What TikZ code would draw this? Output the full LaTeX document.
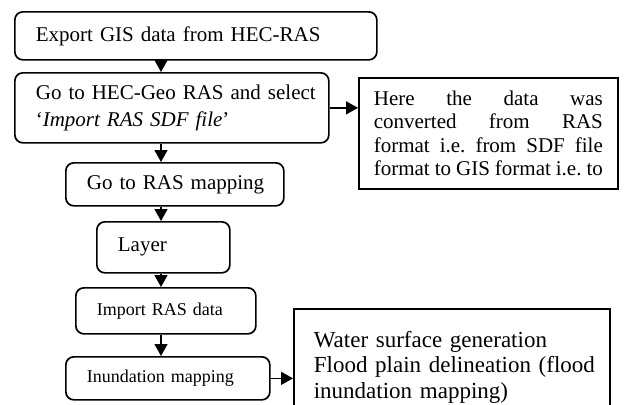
\documentclass[tikz,border=0pt]{standalone}
\usepackage{fontspec}
\setmainfont{Liberation Serif}
\usetikzlibrary{arrows.meta}
\begin{document}
\frenchspacing
\begin{tikzpicture}[x=1pt,y=-1pt,
  rbox/.style={draw, line width=1.7pt, rounded corners=8pt, anchor=north west,
    inner ysep=0pt, inner xsep=21pt, align=left},
  sbox/.style={draw, line width=1.7pt, anchor=north west},
  big/.style={font=\fontsize{21}{27}\selectfont},
  small/.style={font=\fontsize{18}{22}\selectfont},
  arr/.style={line width=1.4pt, -{Triangle[length=12pt,width=13pt]}}]
\clip (0,0) rectangle (625,405);
\coordinate (ax) at (161,0);
\node[rbox, big, text width=320pt, minimum height=48pt] (b1) at (14,11)
  {\mbox{Export GIS data from HEC-RAS}};
\node[rbox, big, text width=272pt, minimum height=70pt] (b2) at (14,72)
  {\mbox{Go to HEC-Geo RAS and select}\\ \mbox{`\textit{Import RAS SDF file}'}};
\node[rbox, big, text width=176pt, minimum height=43pt] (b3) at (65,162)
  {\mbox{Go to RAS mapping}};
\node[rbox, big, text width=91pt, minimum height=51pt] (b4) at (96,221)
  {Layer};
\node[rbox, small, text width=138pt, minimum height=46pt] (b5) at (75,287)
  {\mbox{Import RAS data}};
\node[rbox, small, text width=162pt, minimum height=43pt] (b6) at (65,356)
  {\mbox{Inundation mapping}};
\node[sbox, font=\fontsize{21}{23.3}\selectfont, inner xsep=15pt, inner ysep=0pt,
  text width=229pt, minimum height=111pt, align=justify] (sdf) at (358,77)
  {Here the data was\linebreak converted from RAS\linebreak format i.e. from SDF file\linebreak format to GIS format i.e. to};
\node[sbox, font=\fontsize{23}{25.5}\selectfont, inner xsep=20pt, inner ysep=22pt,
  text width=276pt, align=left] (b7) at (293,308)
  {\mbox{Water surface generation}\\ \mbox{Flood plain delineation (flood}\\ \mbox{inundation mapping)}};
\draw[arr] (b1.south -| ax) -- (b2.north -| ax);
\draw[arr] (b2.south -| ax) -- (b3.north -| ax);
\draw[arr] (b3.south -| ax) -- (b4.north -| ax);
\draw[arr] (b4.south -| ax) -- (b5.north -| ax);
\draw[arr] (b5.south -| ax) -- (b6.north -| ax);
\draw[arr] (b2.east) -- (sdf.west |- b2.east);
\draw[arr] (b6.east) -- (b7.west |- b6.east);
\end{tikzpicture}
\end{document}
